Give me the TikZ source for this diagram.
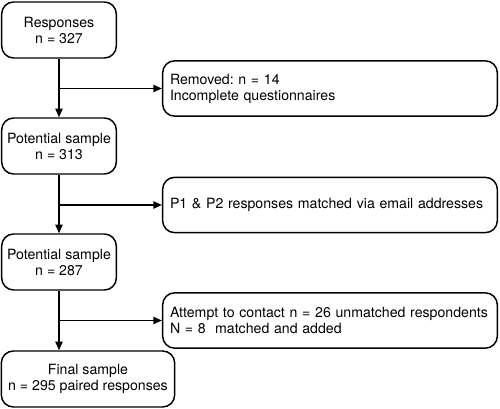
\documentclass[tikz,border=0pt]{standalone}
\usepackage{fontspec}
\setmainfont{TeX Gyre Heros}
\usetikzlibrary{arrows.meta}
\frenchspacing

\begin{document}
\begin{tikzpicture}[x=0.75pt,y=-0.75pt,
  every node/.style={font=\fontsize{10.6}{12}\selectfont},
  flowbox/.style={draw,line width=1.1pt,rounded corners=9pt,inner sep=0pt},
  mainbox/.style={flowbox,align=center,minimum width=86pt,minimum height=42pt},
  sidebox/.style={flowbox,align=left,text width=240pt,minimum width=251pt,minimum height=41.5pt},
  link/.style={line width=1.1pt,-{Triangle[length=6.5pt,width=5.5pt]}}]
\useasboundingbox (0,0) rectangle (500,409);
\node[mainbox] (resp) at (59,30) {Responses\\n = 327};
\node[sidebox] (removed) at (330,88.5) {Removed: n = 14\\Incomplete questionnaires};
\node[mainbox] (pot1) at (59,146) {Potential sample\\n = 313};
\node[sidebox] (matched) at (330,205) {P1 \& P2 responses matched via email addresses};
\node[mainbox] (pot2) at (59,262) {Potential sample\\n = 287};
\node[sidebox] (contact) at (330,320.5) {Attempt to contact n = 26 unmatched respondents\\N = 8\ \ matched and added};
\node[mainbox,minimum width=130pt] (final) at (88,379) {Final sample\\n = 295 paired responses};
\draw[link] (resp.south) -- (pot1.north);
\draw[link] (resp.south |- removed.west) -- (removed.west);
\draw[link] (pot1.south) -- (pot2.north);
\draw[link] (pot1.south |- matched.west) -- (matched.west);
\draw[link] (pot2.south) -- (pot2.south |- final.north);
\draw[link] (pot2.south |- contact.west) -- (contact.west);
\end{tikzpicture}
\end{document}
